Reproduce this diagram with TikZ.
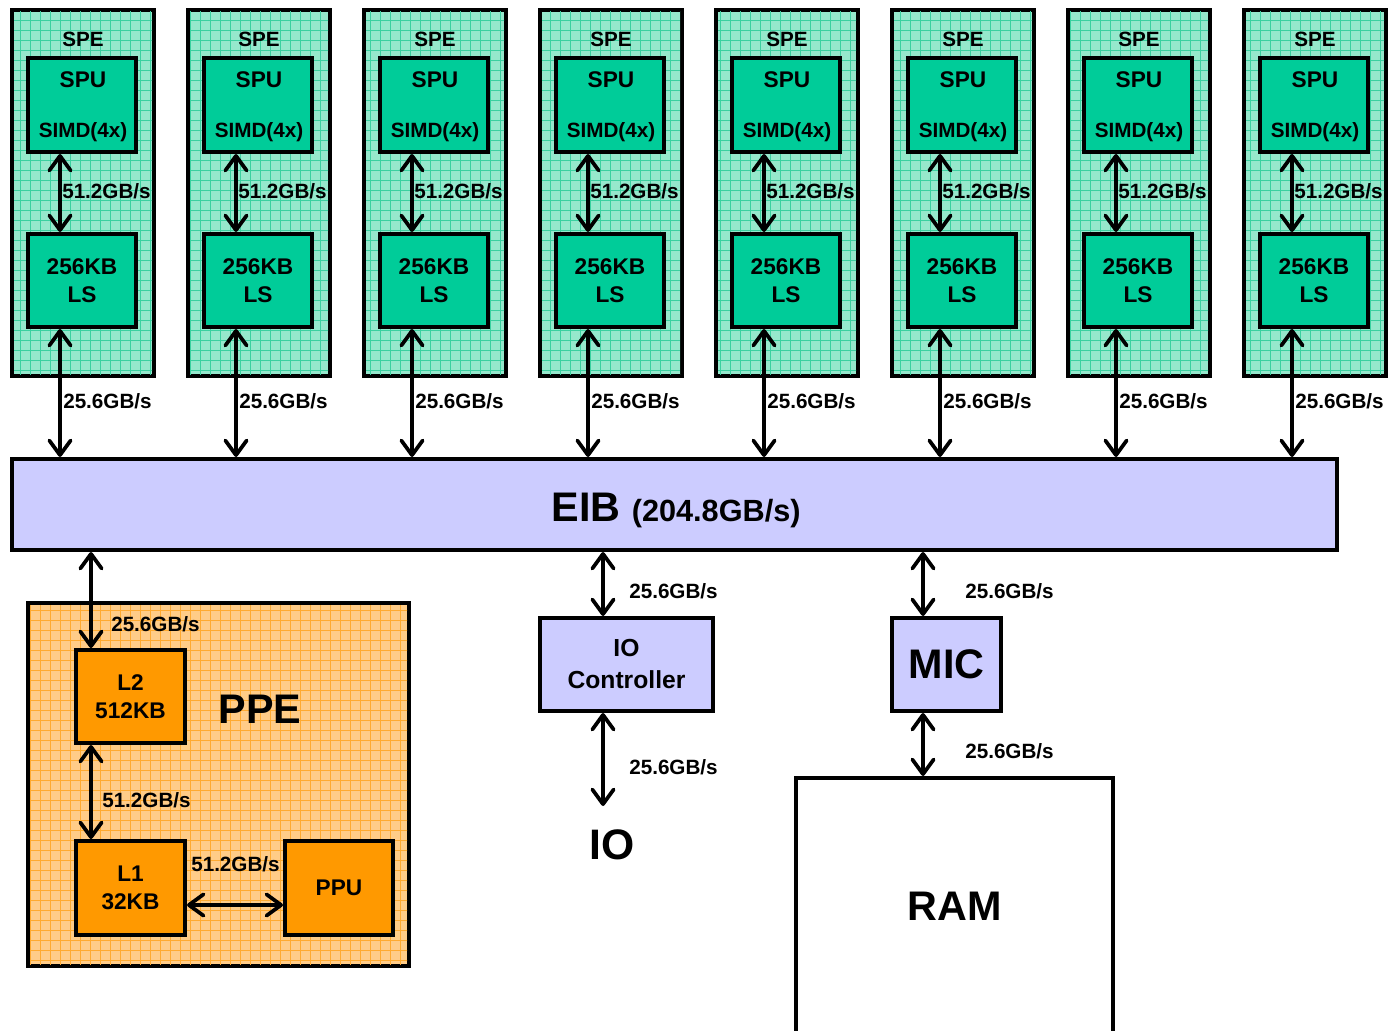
\documentclass[tikz,border=0pt]{standalone}
\usepackage{fontspec}
\setmainfont{Liberation Sans}
\usetikzlibrary{arrows.meta,calc}
\definecolor{spebg}{HTML}{96E8CC}
\definecolor{spegrid}{HTML}{3CD0A0}
\definecolor{spufill}{HTML}{00CC99}
\definecolor{eibfill}{HTML}{CCCCFF}
\definecolor{ppebg}{HTML}{FFCC88}
\definecolor{ppegrid}{HTML}{FFAA30}
\definecolor{l2fill}{HTML}{FF9900}
\tikzset{
  box/.style={draw, line width=3pt, inner sep=0pt, align=center},
  bi/.style={{Straight Barb[length=11pt,width=16pt,round]}-{Straight Barb[length=11pt,width=16pt,round]}, line width=2.8pt},
  rate/.style={anchor=base west, inner sep=0pt, font=\fontsize{15.5}{18}\selectfont\bfseries},
  small/.style={inner sep=0pt, font=\fontsize{15.5}{18}\selectfont\bfseries},
  mid/.style={font=\fontsize{17}{21}\selectfont\bfseries},
  big/.style={inner sep=0pt, font=\fontsize{31}{36}\selectfont\bfseries},
}
\begin{document}
\begin{tikzpicture}[x=0.75pt,y=-0.75pt]
\clip (0,0) rectangle (1389,1031);
\fill[white] (0,0) rectangle (1389,1031);

% EIB
\node[box, fill=eibfill, minimum width=993.75pt, minimum height=68.25pt] (eib) at (674.5,504.5) {};
\node[anchor=base, inner sep=0pt] (eibtxt) at (676,521)
  {\fontsize{31}{34}\selectfont\bfseries EIB \fontsize{23}{26}\selectfont(204.8GB/s)};

% SPEs
\foreach \i in {0,...,7}{
  \pgfmathsetmacro\ox{176*\i}
  \node[box, fill=spebg, minimum width=106.5pt, minimum height=274.5pt] (spe\i) at (83+\ox,193) {};
  \begin{scope}
    \clip ([shift={(3pt,3pt)}]spe\i.south west) rectangle ([shift={(-3pt,-3pt)}]spe\i.north east);
    \draw[spegrid, line width=0.55pt] (spe\i.south west) grid[step=7.5pt] (spe\i.north east);
  \end{scope}
  \node[small] (spelbl\i) at (83+\ox,39) {SPE};
  \node[box, fill=spufill, minimum width=81pt, minimum height=70.5pt] (spu\i) at (82+\ox,105) {};
  \node[mid, inner sep=0pt] (sputxt\i) at (83+\ox,80) {SPU};
  \node[small] (simd\i) at (83+\ox,132) {SIMD(4x)};
  \node[box, mid, fill=spufill, minimum width=81pt, minimum height=69.75pt] (ls\i) at (82+\ox,280.5) {256KB\\LS};
  \coordinate (ax\i) at (60+\ox,0);
  \draw[bi] (spu\i.south -| ax\i) -- (ls\i.north -| ax\i);
  \draw[bi] (ls\i.south -| ax\i) -- (eib.north -| ax\i);
  \node[rate] (ra\i) at (62+\ox,198) {51.2GB/s};
  \node[rate] (rb\i) at (63+\ox,408) {25.6GB/s};
}

% PPE
\node[box, fill=ppebg, minimum width=285.75pt, minimum height=272.25pt] (ppe) at (218.5,784.5) {};
\begin{scope}
  \clip ([shift={(3pt,3pt)}]ppe.south west) rectangle ([shift={(-3pt,-3pt)}]ppe.north east);
  \draw[ppegrid, line width=0.55pt] (ppe.south west) grid[step=7.5pt] (ppe.north east);
\end{scope}
\node[box, mid, fill=l2fill, minimum width=81.75pt, minimum height=69.75pt] (l2) at (130.5,696.5) {L2\\512KB};
\node[box, mid, fill=l2fill, minimum width=81.75pt, minimum height=70.5pt] (l1) at (130.5,888) {L1\\32KB};
\node[box, mid, fill=l2fill, minimum width=81pt, minimum height=70.5pt] (ppu) at (339,888) {PPU};
\node[big] (ppetxt) at (260,709) {PPE};
\coordinate (px) at (91,0);
\coordinate (hy) at (0,905);
\draw[bi] (eib.south -| px) -- (l2.north -| px);
\draw[bi] (l2.south -| px) -- (l1.north -| px);
\draw[bi] (l1.east |- hy) -- (ppu.west |- hy);
\node[rate] (rp1) at (111,631) {25.6GB/s};
\node[rate] (rp2) at (102,807) {51.2GB/s};
\node[rate] (rp3) at (191,871) {51.2GB/s};

% IO controller
\node[box, fill=eibfill, minimum width=129.75pt, minimum height=69.75pt, font=\fontsize{18.5}{24}\selectfont\bfseries] (ioc) at (626.5,664.5) {IO\\Controller};
\node[inner sep=0pt, font=\fontsize{32}{36}\selectfont\bfseries] (io) at (612,845) {IO};
\coordinate (iox) at (603,0);
\coordinate (ioend) at (603,806);
\draw[bi] (eib.south -| iox) -- (ioc.north -| iox);
\draw[bi] (ioc.south -| iox) -- (ioend);
\node[rate] (ri1) at (629,598) {25.6GB/s};
\node[rate] (ri2) at (629,774) {25.6GB/s};

% MIC and RAM
\node[box, big, fill=eibfill, minimum width=81.75pt, minimum height=69.75pt] (mic) at (946.5,664.5) {MIC};
\node[box, minimum width=237.75pt, minimum height=300pt] (ram) at (954.5,978) {};
\node[big] (ramtxt) at (955,906) {RAM};
\coordinate (mx) at (923,0);
\draw[bi] (eib.south -| mx) -- (mic.north -| mx);
\draw[bi] (mic.south -| mx) -- (ram.north -| mx);
\node[rate] (rm1) at (965,598) {25.6GB/s};
\node[rate] (rm2) at (965,758) {25.6GB/s};
\end{tikzpicture}
\end{document}
